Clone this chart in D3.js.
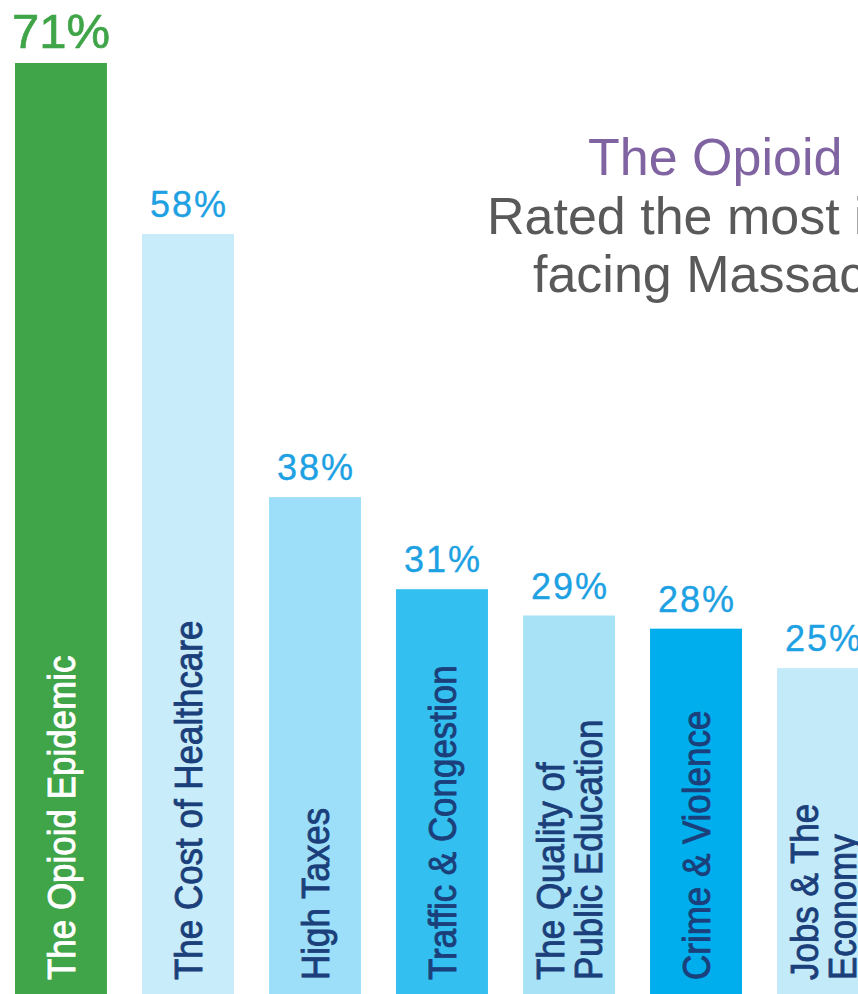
<html>
  <head>
    <script src="https://cdn.jsdelivr.net/npm/d3@7"></script>
    <style>
      body { margin: 0; background: #fff; }
      svg { display: block; }
    </style>
  </head>
  <body>
    <script>
      const width = 858, height = 994;

      // data
      const categories = [
        ["The Opioid Epidemic"],
        ["The Cost of Healthcare"],
        ["High Taxes"],
        ["Traffic & Congestion"],
        ["The Quality of", "Public Education"],
        ["Crime & Violence"],
        ["Jobs & The", "Economy"]
      ];
      const values = [71, 58, 38, 31, 29, 28, 25];
      const barColors = ["#3fa548", "#c8ecf9", "#9ddff8", "#33bff0", "#a8e2f7", "#00aeee", "#c3eaf9"];
      const titleLines = ["The Opioid Epidemic", "Rated the most important issue", "facing Massachusetts"];

      const svg = d3.select("body").append("svg")
          .attr("width", width)
          .attr("height", height);

      const keys = categories.map((c, i) => i);

      const x = d3.scaleBand()
          .domain(keys)
          .range([15, 869])
          .paddingInner(0.276)
          .paddingOuter(0);

      const y = d3.scaleLinear()
          .domain([0, 71])
          .range([997, 63]);

      // bars
      svg.selectAll("rect.bar")
        .data(values)
        .join("rect")
          .attr("class", "bar")
          .attr("x", (d, i) => x(i))
          .attr("y", d => y(d))
          .attr("width", x.bandwidth())
          .attr("height", d => y(0) - y(d))
          .attr("fill", (d, i) => barColors[i]);

      // value labels
      svg.selectAll("text.val")
        .data(values)
        .join("text")
          .attr("class", "val")
          .attr("x", (d, i) => x(i) + x.bandwidth() / 2 + (i == 0 ? 0 : 1))
          .attr("y", (d, i) => y(d) - (i == 0 ? 15 : 17))
          .attr("text-anchor", "middle")
          .attr("font-family", "'Liberation Sans', Arial, sans-serif")
          .attr("font-size", (d, i) => i == 0 ? 49 : 36)
          .attr("letter-spacing", (d, i) => i == 0 ? 0 : 2)
          .attr("fill", (d, i) => i == 0 ? "#3fa548" : "#1da1e3")
          .attr("stroke", (d, i) => i == 0 ? "#3fa548" : "#1da1e3")
          .attr("stroke-width", (d, i) => i == 0 ? 0.7 : 0.35)
          .text(d => d + "%");

      // rotated category labels
      const lab = svg.selectAll("g.lab")
        .data(categories)
        .join("g")
          .attr("class", "lab")
          .attr("transform", (d, i) => `translate(${x(i) + x.bandwidth() / 2},980) rotate(-90) scale(0.92,1)`);

      lab.selectAll("text")
        .data((d, i) => d.map((t, j) => ({t, j, n: d.length, i})))
        .join("text")
          .attr("x", 0)
          .attr("y", d => (d.j - (d.n - 1) / 2) * 38)
          .attr("dy", "0.36em")
          .attr("font-family", "'Liberation Sans', Arial, sans-serif")
          .attr("font-size", 38)
          .attr("fill", d => d.i == 0 ? "#ffffff" : "#1b3f7a")
          .attr("stroke", d => d.i == 0 ? "#ffffff" : "#1b3f7a")
          .attr("stroke-width", 0.9)
          .text(d => d.t);

      // title (runs off the right edge)
      const titleX = [588, 487, 533];
      svg.selectAll("text.title")
        .data(titleLines)
        .join("text")
          .attr("class", "title")
          .attr("x", (d, i) => titleX[i])
          .attr("y", (d, i) => 175 + i * 58.5)
          .attr("font-family", "'Liberation Sans', Arial, sans-serif")
          .attr("font-size", 52)
          .attr("fill", (d, i) => i == 0 ? "#8064a2" : "#595959")
          .text(d => d);
    </script>
  </body>
</html>
